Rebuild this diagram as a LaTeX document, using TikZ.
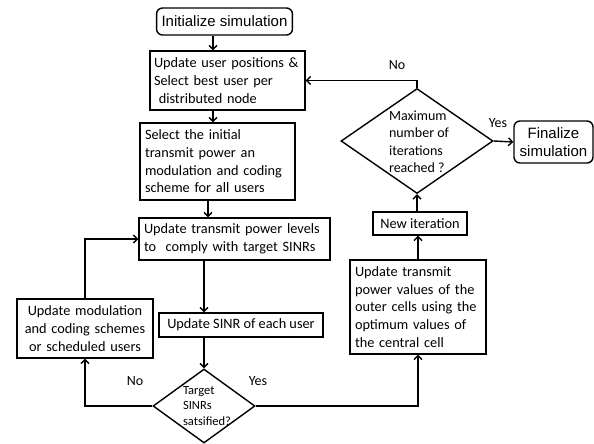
\documentclass[tikz,border=0pt]{standalone}
\usepackage{fontspec}
\setmainfont{Carlito}
\newfontfamily\arialf{Liberation Sans}
\usetikzlibrary{shapes.geometric,arrows.meta}
\begin{document}
\begin{tikzpicture}[x=1pt,y=-1pt,
  base/.style={draw,line width=1.4pt,inner xsep=5pt,inner ysep=0pt,font=\fontsize{14.3}{17.7}\selectfont},
  lbox/.style={base,align=left},
  cbox/.style={base,align=center},
  rbox/.style={base,rounded corners=6pt,align=center,font=\arialf\fontsize{15}{17.5}\selectfont},
  dec/.style={draw,line width=1.4pt,diamond,inner sep=0pt},
  dtext/.style={inner sep=0pt,align=left},
  arr/.style={line width=1.4pt,-{Straight Barb[length=4pt,width=8pt]}},
  lab/.style={font=\fontsize{14}{16}\selectfont}]
\useasboundingbox (0,0) rectangle (594,444);
\node[rbox,minimum width=135pt,minimum height=27pt] (init) at (224.5,21.5) {Initialize simulation};
\node[lbox,inner xsep=4pt,text width=147pt,minimum height=59pt] (pos) at (227.5,80.5) {Update user positions \&\\Select best user per\\\ distributed node};
\node[lbox,text width=145pt,minimum height=77pt] (sel) at (217.5,161.5) {Select the initial\\transmit power an\\modulation and coding\\scheme for all users};
\node[lbox,text width=181pt,minimum height=42pt] (pow) at (234.5,239) {Update transmit power levels\\to\ \ comply with target SINRs};
\node[cbox,minimum width=164pt,minimum height=24pt] (sinr) at (241,325) {Update SINR of each user};
\node[cbox,text width=126pt,minimum height=59pt] (mod) at (85,328.5) {Update modulation\\and coding schemes\\or scheduled users};
\node[dec,minimum width=102pt,minimum height=74pt] (d1) at (204,406) {};
\node[dtext,font=\fontsize{12.5}{15.7}\selectfont] (d1t) at (207,406) {Target\\SINRs\\satsified?};
\node[lbox,text width=126pt,minimum height=94pt] (outer) at (418,307) {Update transmit\\power values of the\\outer cells using the\\optimum values of\\the central cell};
\node[cbox,minimum width=94pt,minimum height=23pt] (newit) at (420,223.5) {New iteration};
\node[dec,minimum width=152pt,minimum height=105pt] (d2) at (417,141) {};
\node[dtext,font=\fontsize{14}{17.5}\selectfont] (d2t) at (419,141.5) {Maximum\\number of\\iterations\\reached ?};
\node[rbox,minimum width=79pt,minimum height=42pt] (fin) at (553.5,142) {Finalize\\simulation};
% connectors
\draw[arr] ([xshift=-11.5pt]init.south) -- ([xshift=-11.5pt]init.south |- pos.north);
\draw[arr] ([xshift=-14.5pt]pos.south) -- ([xshift=-14.5pt]pos.south |- sel.north);
\draw[arr] ([xshift=-9.5pt]sel.south) -- ([xshift=-9.5pt]sel.south |- pow.north);
\draw[arr] (d1.north |- pow.south) -- (d1.north |- sinr.north);
\draw[arr] (d1.north |- sinr.south) -- (d1.north);
\draw[arr] (d1.west) -- (mod.south |- d1.west) -- (mod.south);
\draw[arr] (mod.north) -- (mod.north |- pow.west) -- (pow.west);
\draw[arr] (d1.east) -- (outer.south |- d1.east) -- (outer.south);
\draw[arr] (outer.north) -- (outer.north |- newit.south);
\draw[arr] (d2.south |- newit.north) -- (d2.south);
\draw[arr] (d2.north) -- (d2.north |- pos.east) -- (pos.east);
\draw[arr] (d2.east) -- (fin.west);
% labels
\node[lab] (no2) at (397,65) {No};
\node[lab] (yes2) at (498,123) {Yes};
\node[lab] (no1) at (135,381) {No};
\node[lab] (yes1) at (258,381) {Yes};
\end{tikzpicture}
\end{document}
